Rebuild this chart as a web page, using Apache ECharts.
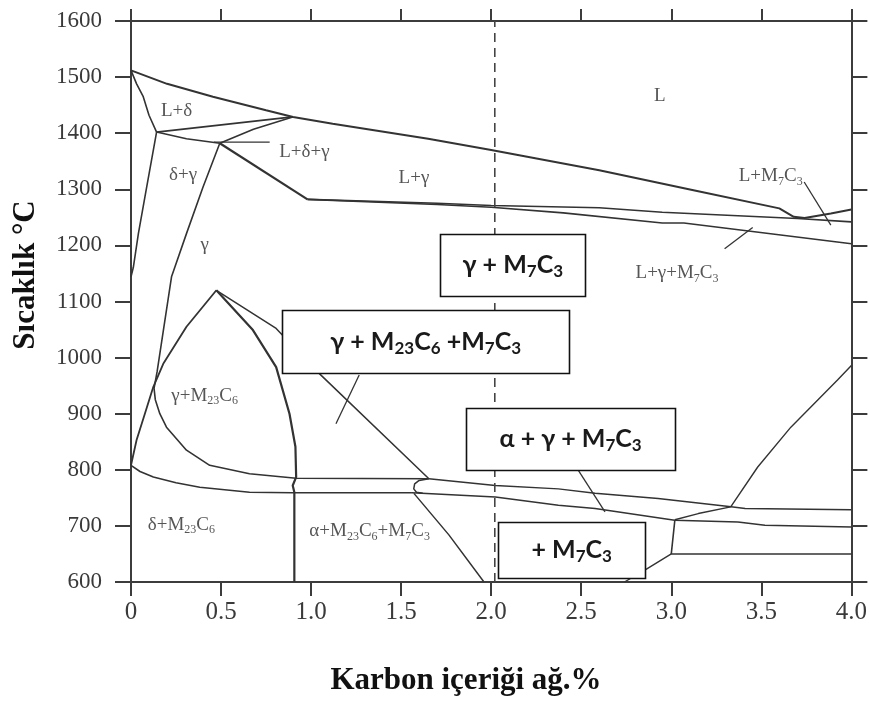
<!DOCTYPE html>
<html><head><meta charset="utf-8">
<script src="https://cdn.jsdelivr.net/npm/echarts/dist/echarts.min.js"></script>
<style>html,body{margin:0;padding:0;background:#fff}#c{width:870px;height:701px}</style>
</head><body><div id="c"></div>
<script>
// ---- axis ticks ----
const xTickMin = 0, xTickMax = 4, xTickStep = 0.5;
const yTickMin = 600, yTickMax = 1600, yTickStep = 100;

// ---- phase boundary lines [carbon wt%, temperature °C] ----
const liquidus = [[0,1512],[0.2,1488],[0.455,1465],[0.75,1441],[0.9,1429],[1.12,1417],[1.65,1390],[2.0,1370],[2.2,1358],[2.6,1334],[3.13,1298],[3.6,1266],[3.68,1251],[3.74,1249],[3.886,1257],[4.0,1264]];
const deltaLiquidusSide = [[0,1512],[0.031,1488],[0.068,1465],[0.1,1432],[0.142,1402]];
const lDeltaBase = [[0.142,1402],[0.898,1429]];
const deltaGammaTop = [[0.142,1402],[0.308,1390],[0.493,1382]];
const peritecticLeg = [[0.493,1382],[0.68,1407],[0.898,1429]];
const gammaSolidus = [[0.493,1382],[0.98,1282]];
const deltaSolvus = [[0.142,1402],[0.087,1304],[0.041,1221],[0.013,1161],[0,1144]];
const gammaDeltaLine = [[0.493,1382],[0.40,1304],[0.308,1221],[0.225,1144],[0.18,1049],[0.145,975],[0.128,945],[0.135,925],[0.16,900],[0.197,876],[0.308,835],[0.437,808],[0.658,793],[0.917,785],[1.654,784]];
const carbideArc = [[0.474,1120],[0.308,1055],[0.179,989],[0.124,948],[0.077,900],[0.031,853],[0,808]];
const carbideRight = [[0.474,1120],[0.677,1049],[0.806,983],[0.88,900],[0.913,841],[0.917,787],[0.898,772],[0.907,760],[0.907,600]];
const ferriteUpper = [[0,808],[0.05,797],[0.124,787],[0.25,777],[0.382,769],[0.658,760],[0.898,759],[1.56,759]];
const m7Diagonal = [[0.474,1120],[0.806,1052],[0.95,1003],[1.046,971.5],[1.654,784]];
const alphaGammaUpper = [[1.654,784],[2.023,772],[2.373,766],[2.577,758],[2.927,749],[3.332,734],[3.41,731],[4.0,729]];
const hookCurve = [[1.654,784],[1.6,781],[1.575,775],[1.57,766],[1.585,760],[1.62,758]];
const alphaGammaLower = [[1.56,759],[2.023,751.5],[2.373,737],[2.577,731],[3.019,710],[3.37,707],[3.52,701],[4.0,698]];
const alphaDiagonal = [[1.571,758],[1.765,684],[1.96,600]];
const bigRise = [[3.02,711],[3.15,722],[3.33,734],[3.48,805],[3.664,876],[3.775,912],[3.923,960],[4.0,986]];
const stepLine = [[3.02,711],[3.0,650],[4.0,650]];
const lowDiagonal = [[3.0,650],[2.853,621],[2.74,600]];
const solidusUpper = [[0.98,1282],[1.7,1275],[2.0,1271],[2.6,1267],[2.95,1259],[3.7,1248],[4.0,1242]];
const solidusLower = [[0.98,1282],[1.7,1273],[2.0,1268],[2.4,1258],[2.95,1240],[3.07,1240],[4.0,1203]];
const dashedLine = [[2.02,600],[2.02,1600]];
const leaderLDG = [[0.46,1384],[0.77,1384]];
const leaderLM = [[3.738,1313],[3.886,1236]];
const leaderLGM = [[3.296,1194],[3.452,1232]];
const leaderGMM = [[1.267,969],[1.138,882]];
const leaderAGM = [[2.484,799],[2.632,725]];

// ---- phase field labels ----
const phaseText = ['L+δ','L+δ+γ','δ+γ','γ','L+γ','L','L+M{s|7}C{s|3}','L+γ+M{s|7}C{s|3}','γ+M{s|23}C{s|6}','δ+M{s|23}C{s|6}','α+M{s|23}C{s|6}+M{s|7}C{s|3}'];
const phaseC = [0.253,0.963,0.289,0.409,1.571,2.936,3.552,3.032,0.409,0.280,1.325];
const phaseT = [1440,1366,1325,1200,1320,1467,1323,1150,931,701,690];

// ---- boxed annotations ----
const boxText = ['γ + M{s|7}C{s|3}','γ + M{s|23}C{s|6} +M{s|7}C{s|3}','α + γ + M{s|7}C{s|3}','+ M{s|7}C{s|3}'];
const boxC = [2.12,1.636,2.441,2.447];
const boxT = [1165,1028.5,855.6,657.4];
const boxW = [145,287,209,147];
const boxH = [62,63,62,56];

const lineColor = '#333';
const lineDefs = [
  [liquidus,2],[deltaLiquidusSide,1.6],[lDeltaBase,1.8],[deltaGammaTop,1.6],[peritecticLeg,1.6],
  [gammaSolidus,2.2],[deltaSolvus,1.6],[gammaDeltaLine,1.6],[carbideArc,1.8],[carbideRight,2.2],
  [ferriteUpper,1.6],[m7Diagonal,1.5],[alphaGammaUpper,1.5],[hookCurve,1.5],[alphaGammaLower,1.5],
  [alphaDiagonal,1.5],[bigRise,1.4],[stepLine,1.6],[lowDiagonal,1.4],[solidusUpper,1.6],[solidusLower,1.6],
  [leaderLDG,1.3],[leaderLM,1.3],[leaderLGM,1.3],[leaderGMM,1.3],[leaderAGM,1.3]
];

const series = lineDefs.map(([d,w]) => ({
  type:'line', data:d, symbol:'none', showSymbol:false, silent:true, animation:false,
  lineStyle:{color:lineColor, width:w}, z:2
}));
series.push({
  type:'line', data:dashedLine, symbol:'none', silent:true,
  lineStyle:{color:'#444', width:1.6, type:[9,6]}, z:2
});
series.push({
  type:'scatter', symbolSize:1, silent:true,
  itemStyle:{color:'rgba(0,0,0,0)'},
  data: phaseC.map((c,i)=>[c,phaseT[i]]),
  label:{
    show:true, position:'inside', formatter:p=>phaseText[p.dataIndex],
    fontFamily:'Liberation Serif', fontSize:19, lineHeight:22, color:'#2a2a2a',
    rich:{ s:{fontFamily:'Liberation Serif', fontSize:12, lineHeight:9, verticalAlign:'bottom', color:'#2a2a2a'} }
  }, z:5
});

const axisCol = '#3c3c3c';
const chart = echarts.init(document.getElementById('c'));
chart.setOption({
  animation:false,
  grid:{left:131, top:21, width:723, height:561},
  xAxis:[
    {type:'value', min:xTickMin, max:xTickMax, interval:xTickStep, position:'bottom',
     axisLine:{show:true,onZero:false,lineStyle:{color:axisCol,width:2}},
     axisTick:{show:true,length:14,lineStyle:{color:axisCol,width:2}},
     axisLabel:{margin:18,fontFamily:'Liberation Serif',fontSize:25,color:'#3a3a3a',
       formatter:v=> v===0 ? '0' : v.toFixed(1)},
     splitLine:{show:false}},
    {type:'value', min:xTickMin, max:xTickMax, interval:xTickStep, position:'top',
     axisLine:{show:true,onZero:false,lineStyle:{color:axisCol,width:2}},
     axisTick:{show:true,length:12,lineStyle:{color:axisCol,width:2}},
     axisLabel:{show:false}, splitLine:{show:false}}
  ],
  yAxis:[
    {type:'value', min:yTickMin, max:yTickMax, interval:yTickStep, position:'left',
     axisLine:{show:true,onZero:false,lineStyle:{color:axisCol,width:2}},
     axisTick:{show:true,length:16,lineStyle:{color:axisCol,width:2}},
     axisLabel:{margin:29,fontFamily:'Liberation Serif',fontSize:23,color:'#3a3a3a',
       formatter:v=> String(v)},
     splitLine:{show:false}},
    {type:'value', min:yTickMin, max:yTickMax, interval:yTickStep, position:'right',
     axisLine:{show:true,onZero:false,lineStyle:{color:axisCol,width:2}},
     axisTick:{show:true,length:16,lineStyle:{color:axisCol,width:2}},
     axisLabel:{show:false}, splitLine:{show:false}}
  ],
  series: series
});

const graphics = [];
boxText.forEach((t,i)=>{
  const p = chart.convertToPixel({xAxisIndex:0,yAxisIndex:0},[boxC[i],boxT[i]]);
  graphics.push({type:'rect', z:100, shape:{x:Math.round(p[0]-boxW[i]/2)+0.5, y:Math.round(p[1]-boxH[i]/2)+0.5, width:boxW[i], height:boxH[i]},
    style:{fill:'#fff', stroke:'#111', lineWidth:1.6}});
  graphics.push({type:'text', z:101, x:p[0], y:p[1],
    style:{text:t, fontFamily:'Lato', fontWeight:'bold', fontSize:25, lineHeight:30, fill:'#1a1a1a',
      align:'center', verticalAlign:'middle', textAlign:'center', textVerticalAlign:'middle',
      rich:{ s:{fontFamily:'Lato', fontWeight:'bold', fontSize:17, lineHeight:12, verticalAlign:'bottom', fill:'#1a1a1a'} } }});
});
graphics.push({type:'text', z:101, x:466, y:681,
  style:{text:'Karbon içeriği ağ.%', fontFamily:'Liberation Serif', fontWeight:'bold', fontSize:31, fill:'#111',
    align:'center', verticalAlign:'middle', textAlign:'center', textVerticalAlign:'middle'}});
graphics.push({type:'text', z:101, x:26, y:275, rotation:Math.PI/2,
  style:{text:'Sıcaklık °C', fontFamily:'Liberation Serif', fontWeight:'bold', fontSize:31, fill:'#111',
    align:'center', verticalAlign:'middle', textAlign:'center', textVerticalAlign:'middle'}});
chart.setOption({graphic:graphics});
</script></body></html>
